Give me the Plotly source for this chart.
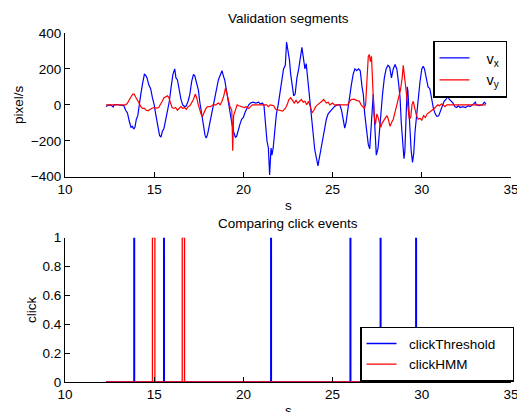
import plotly.graph_objects as go

# ---- data ----
vx_t = [12.30,12.40,12.50,12.60,12.70,12.75,12.90,13.10,13.30,13.40,13.50,13.60,13.70,13.78,13.85,13.92,14.00,14.08,14.15,14.25,
        14.35,14.45,14.52,14.60,14.70,14.80,14.90,15.00,15.10,15.20,15.30,15.38,15.45,15.55,15.65,15.75,15.85,15.95,16.05,16.15,
        16.22,16.30,16.40,16.50,16.60,16.70,16.80,16.90,17.00,17.10,17.20,17.28,17.38,17.48,17.55,17.65,17.75,17.85,17.92,18.00,
        18.10,18.20,18.30,18.40,18.50,18.60,18.70,18.80,18.88,18.95,19.05,19.15,19.25,19.35,19.45,19.55,19.62,19.70,19.80,19.90,
        20.00,20.10,20.20,20.30,20.40,20.55,20.70,20.85,20.95,21.05,21.15,21.25,21.32,21.40,21.47,21.55,21.60,21.67,21.75,21.85,
        21.95,22.05,22.15,22.25,22.35,22.42,22.50,22.58,22.65,22.75,22.82,22.90,23.00,23.10,23.20,23.28,23.35,23.45,23.52,23.60,
        23.70,23.80,23.90,24.00,24.10,24.18,24.25,24.35,24.45,24.55,24.65,24.75,24.90,25.00,25.10,25.25,25.40,25.50,25.60,25.68,
        25.75,25.85,25.95,26.05,26.15,26.25,26.35,26.45,26.55,26.65,26.72,26.80,26.90,27.00,27.08,27.15,27.22,27.28,27.33,27.40,
        27.45,27.55,27.62,27.70,27.80,27.90,28.00,28.10,28.20,28.30,28.40,28.50,28.60,28.70,28.78,28.85,28.92,29.00,29.05,29.12,
        29.18,29.22,29.30,29.40,29.48,29.55,29.62,29.72,29.80,29.90,30.00,30.08,30.15,30.25,30.35,30.45,30.55,30.65,30.75,30.85,
        30.95,31.05,31.15,31.25,31.35,31.45,31.55,31.65,31.75,31.85,31.95,32.05,32.15,32.30,32.45,32.60,32.70,32.85,33.00,33.05,
        33.20,33.40,33.50,33.60]
vx_v = [-10,-2,0,-3,-12,0,2,0,-5,-30,-45,-90,-125,-120,-135,-125,-80,-60,0,60,
        120,170,165,150,110,90,40,0,-60,-110,-170,-180,-150,-130,-80,-40,20,100,170,200,
        150,140,80,30,0,-10,-5,20,60,130,170,160,120,80,20,-40,-120,-170,-185,-160,
        -110,-60,-20,40,100,140,165,190,160,140,80,20,-60,-100,-150,-180,-175,-140,-110,-80,
        -70,-40,-20,0,10,15,10,15,5,10,0,-120,-200,-240,-390,-240,-280,-240,-150,-50,
        0,60,130,200,220,350,300,250,170,80,50,60,150,200,280,320,270,200,230,150,
        60,-60,-160,-250,-300,-340,-300,-240,-180,-130,-80,-50,-30,-20,-10,0,0,-30,-90,-130,
        -100,-40,40,110,170,200,190,200,190,100,60,-50,-150,-220,-245,-150,-50,60,-50,-220,
        -280,-240,-150,-50,60,150,200,220,210,150,200,225,200,120,40,-100,-220,-300,-260,-100,
        100,80,-100,-250,-320,-270,-150,-50,50,130,200,215,200,150,100,90,30,-20,-50,-65,
        -60,-30,0,20,30,45,30,20,10,-10,-15,-5,-15,-10,-15,-5,-10,0,15,0,
        -5,0,15,5]

vy_t = [12.30,13.40,13.50,13.60,13.70,13.80,13.88,13.95,14.05,14.15,14.25,14.35,14.45,14.55,14.65,14.75,14.85,15.00,15.15,15.25,
        15.35,15.45,15.55,15.65,15.75,15.82,15.90,16.00,16.10,16.20,16.30,16.40,16.50,16.60,16.70,16.80,16.90,17.00,17.10,17.20,
        17.30,17.38,17.45,17.55,17.62,17.70,17.80,17.90,18.00,18.15,18.30,18.45,18.60,18.70,18.80,18.90,19.00,19.07,19.15,19.25,
        19.35,19.40,19.45,19.55,19.65,19.75,19.90,20.05,20.15,20.30,20.40,20.50,21.30,21.40,21.50,21.70,21.80,22.00,22.20,22.35,
        22.45,22.55,22.65,22.75,22.85,22.95,23.05,23.15,23.25,23.35,23.45,23.55,23.65,23.75,23.85,23.95,24.05,24.15,24.30,24.40,
        24.50,24.55,24.65,24.75,24.85,25.00,25.10,25.85,25.95,26.05,26.20,26.35,26.50,26.60,26.70,26.78,26.85,26.92,27.00,27.06,
        27.12,27.18,27.25,27.32,27.40,27.48,27.55,27.62,27.70,27.78,27.85,27.95,28.05,28.12,28.22,28.30,28.40,28.50,28.60,28.70,
        28.80,28.90,28.96,29.05,29.15,29.22,29.30,29.38,29.45,29.52,29.60,29.70,29.80,29.90,30.00,30.10,30.20,30.30,30.45,30.60,
        30.70,30.80,30.90,31.00,31.10,31.20,31.30,31.40,33.60]
vy_v = [0,0,10,30,45,60,60,45,30,10,-10,-20,-20,-30,-33,-25,-20,-15,-18,-15,
        0,20,40,45,50,40,10,-15,-20,-15,-30,-20,-10,-20,-15,-25,-10,-5,10,30,
        60,40,10,-30,-50,-65,-40,-20,-10,-10,0,0,10,0,20,50,95,60,20,-10,
        -30,-255,-60,-30,0,-5,-10,-15,-10,-20,-10,0,0,-10,0,-5,-25,-30,-35,-20,
        0,30,40,25,10,25,10,20,30,15,20,0,20,-10,-45,-30,-10,0,10,20,
        30,25,10,15,0,10,0,0,20,30,32,25,20,0,-10,-20,0,100,270,280,
        240,270,100,-50,-110,-50,-70,-90,-125,-100,-90,-70,-60,-80,-120,-100,-80,-40,0,40,
        80,150,220,140,40,-30,-80,-70,0,20,-20,-60,-80,-75,-85,-60,-70,-50,-40,-30,
        -20,-10,0,-5,5,0,-10,0,0]

click_start, click_end = 12.30, 33.60
thr_on = [13.86, 15.53, 21.53, 25.98, 27.67, 29.66]
thr_off = [13.90, 15.57, 21.57, 26.02, 27.71, 29.70]
hmm_on = [14.90, 16.57]
hmm_off = [15.04, 16.70]

x_ticks = [10, 15, 20, 25, 30, 35]
y1_ticks = [-400, -200, 0, 200, 400]
y2_ticks = [0, 0.2, 0.4, 0.6, 0.8, 1]
y2_labels = ["0", "0.2", "0.4", "0.6", "0.8", "1"]


def pulses(on, off):
    t = [click_start]
    v = [0]
    for a, b in zip(on, off):
        t += [a, a, b, b]
        v += [0, 1, 1, 0]
    t.append(click_end)
    v.append(0)
    return t, v


thr_t, thr_v = pulses(thr_on, thr_off)
hmm_t, hmm_v = pulses(hmm_on, hmm_off)

FONT = "Liberation Sans, Arial, Helvetica, sans-serif"
BLUE = "#0000ff"
RED = "#ff0000"
NB = "\u00a0"

fig = go.Figure()
fig.add_trace(go.Scatter(x=vx_t, y=vx_v, mode="lines", name=NB * 3 + "v<sub>x</sub>",
                         line=dict(color=BLUE, width=1.2), xaxis="x", yaxis="y", legend="legend"))
fig.add_trace(go.Scatter(x=vy_t, y=vy_v, mode="lines", name=NB * 3 + "v<sub>y</sub>",
                         line=dict(color=RED, width=1.2), xaxis="x", yaxis="y", legend="legend"))
fig.add_trace(go.Scatter(x=thr_t, y=thr_v, mode="lines", name=NB * 2 + "clickThreshold" + NB * 3,
                         line=dict(color=BLUE, width=1.3), xaxis="x2", yaxis="y2", legend="legend2"))
fig.add_trace(go.Scatter(x=hmm_t, y=hmm_v, mode="lines", name=NB * 2 + "clickHMM",
                         line=dict(color=RED, width=1.3), xaxis="x2", yaxis="y2", legend="legend2"))

H = 412
T = 33
B = 30
ph = H - T - B


def py(p):
    return (H - B - p) / ph


def px(p):
    return (p - 65) / 446


FS = 13.5
axis_common = dict(showline=True, linecolor="black", linewidth=1, mirror=False,
                   ticks="inside", ticklen=5, tickcolor="black", tickwidth=1,
                   showgrid=False, zeroline=False, ticklabeloverflow="allow",
                   tickfont=dict(family=FONT, size=FS, color="black"))

fig.update_layout(
    width=517, height=412,
    margin=dict(l=65, r=6, t=T, b=B, autoexpand=False),
    paper_bgcolor="white", plot_bgcolor="white",
    font=dict(family=FONT, size=FS, color="black"),
    xaxis=dict(domain=[0, 1], range=[10, 35], tickvals=x_ticks, anchor="y", **axis_common),
    yaxis=dict(domain=[py(176.7), 1], range=[-400, 400], tickvals=y1_ticks, anchor="x", **axis_common),
    xaxis2=dict(domain=[0, 1], range=[10, 35], tickvals=x_ticks, anchor="y2", **axis_common),
    yaxis2=dict(domain=[0, py(237.7)], range=[0, 1], tickvals=y2_ticks, ticktext=y2_labels,
                anchor="x2", **axis_common),
    legend=dict(x=px(433), y=py(40.5), xanchor="left", yanchor="top",
                bordercolor="black", borderwidth=1.5, bgcolor="white",
                font=dict(family=FONT, size=14.5), tracegroupgap=0),
    legend2=dict(x=px(360), y=py(326.7), xanchor="left", yanchor="top",
                 bordercolor="black", borderwidth=1.5, bgcolor="white",
                 font=dict(family=FONT, size=13.5), tracegroupgap=0),
    showlegend=True,
)

ann = dict(xref="paper", yref="paper", showarrow=False, font=dict(family=FONT, size=FS, color="black"))
fig.add_annotation(text="Validation segments", x=0.5, y=py(18), xanchor="center", yanchor="middle", **ann)
fig.add_annotation(text="s", x=0.5, y=py(205), xanchor="center", yanchor="middle", **ann)
fig.add_annotation(text="Comparing click events", x=0.5, y=py(223), xanchor="center", yanchor="middle", **ann)
fig.add_annotation(text="s", x=0.5, y=py(410), xanchor="center", yanchor="middle", **ann)
fig.add_annotation(text="pixel/s", x=px(18), y=py(105), xanchor="center", yanchor="middle", textangle=-90, **ann)
fig.add_annotation(text="click", x=px(31), y=py(310), xanchor="center", yanchor="middle", textangle=-90, **ann)

fig.write_html("out.html", config={"displayModeBar": False},
               post_script="document.body.style.margin='0';document.body.style.overflow='hidden';")
